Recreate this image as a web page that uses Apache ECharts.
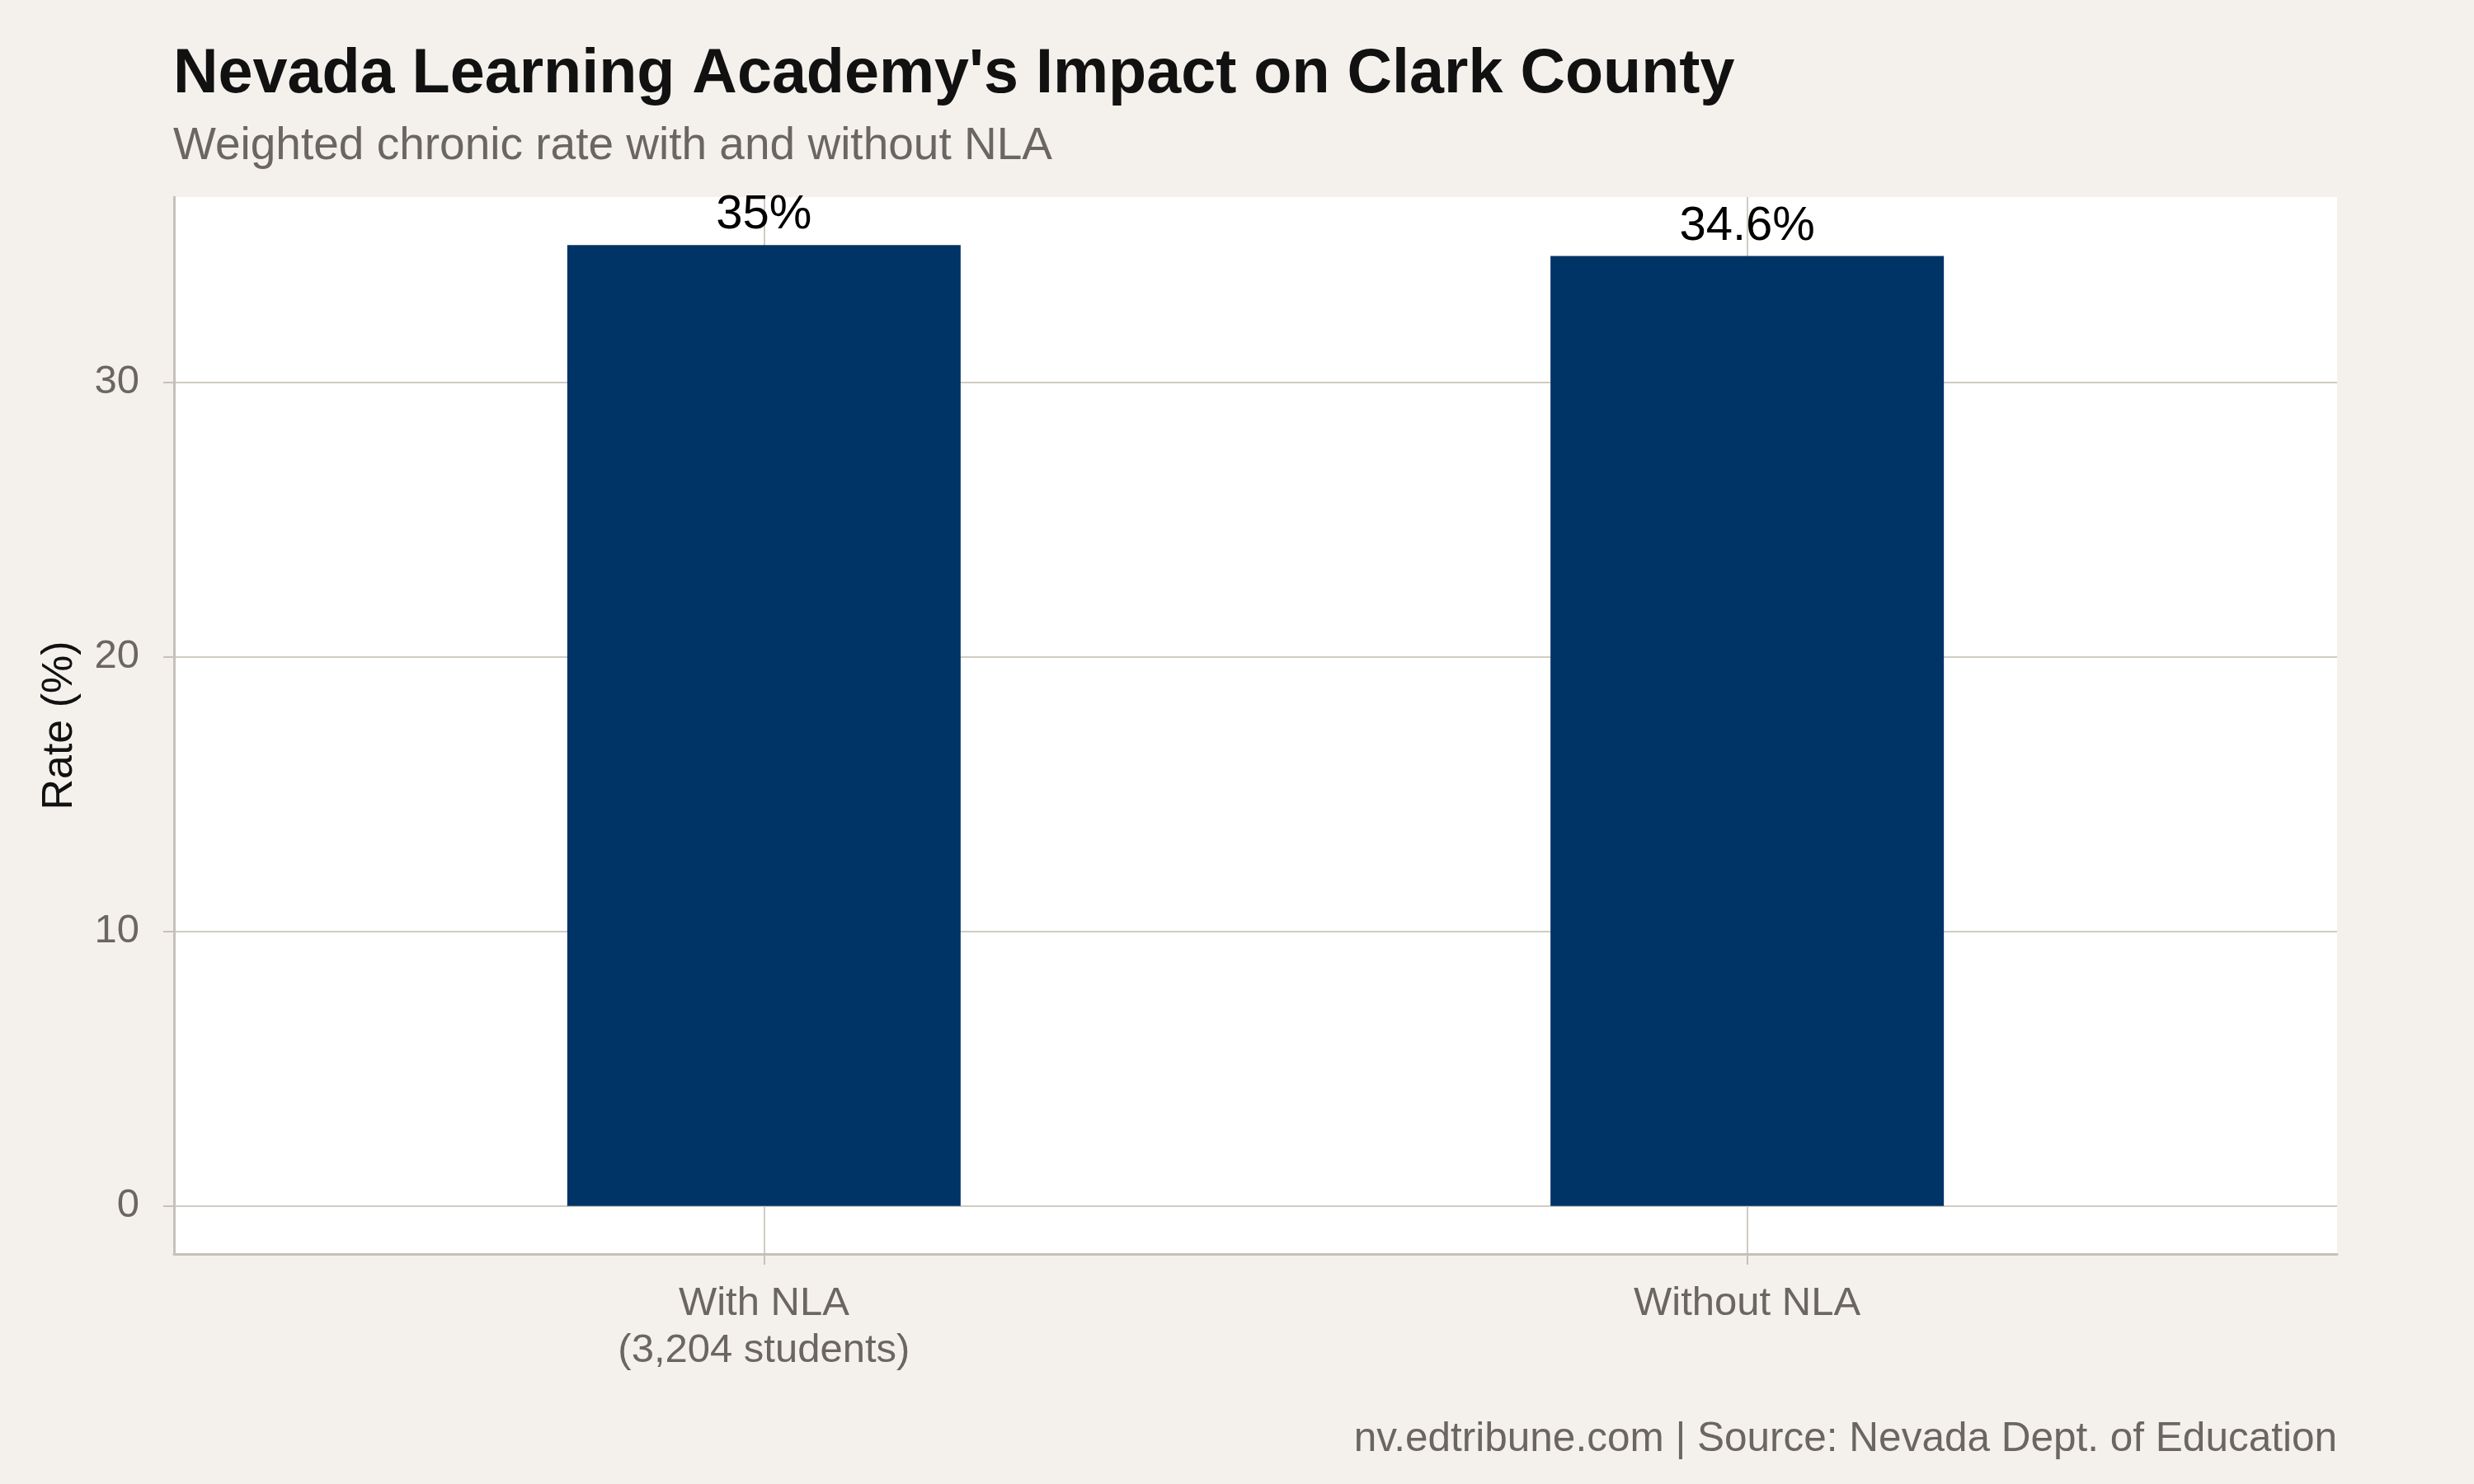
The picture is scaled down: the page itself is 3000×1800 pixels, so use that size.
<!DOCTYPE html>
<html lang="en">
<head>
<meta charset="UTF-8">
<title>Nevada Learning Academy's Impact on Clark County</title>
<script src="https://cdn.jsdelivr.net/npm/echarts@6/dist/echarts.min.js"></script>
<style>
  html, body { margin: 0; padding: 0; background: #f4f1ec; }
  #main { width: 3000px; height: 1800px; }
</style>
</head>
<body>
<div id="main"></div>
<script>
// data
var categories = ['With NLA\n(3,204 students)', 'Without NLA'];
var catPositions = [1, 2];
var rates = [35, 34.6];
var yTicks = [0, 10, 20, 30];

var gray = '#6b6660';
var gridColor = '#d0cbc3';
var axisColor = '#c6c1b8';
var font = 'Liberation Sans';

var chart = echarts.init(document.getElementById('main'));

var option = {
  backgroundColor: '#f4f1ec',
  textStyle: { fontFamily: font },
  title: [
    {
      text: "Nevada Learning Academy's Impact on Clark County",
      left: 210, top: 53, padding: 0,
      textStyle: { fontSize: 75.5, fontWeight: 'bold', color: '#111111', fontFamily: font, lineHeight: 76 }
    },
    {
      text: 'Weighted chronic rate with and without NLA',
      left: 210, top: 150, padding: 0,
      textStyle: { fontSize: 55, fontWeight: 'normal', color: gray, fontFamily: font, lineHeight: 55 }
    },
    {
      text: 'nv.edtribune.com | Source: Nevada Dept. of Education',
      right: 166, top: 1722, padding: 0,
      textStyle: { fontSize: 49.5, fontWeight: 'normal', color: gray, fontFamily: font, lineHeight: 49 }
    }
  ],
  grid: {
    left: 211, right: 166, top: 239, bottom: 279,
    show: true, backgroundColor: '#ffffff', borderWidth: 0,
    containLabel: false, outerBoundsMode: 'none'
  },
  xAxis: {
    type: 'value',
    min: 0.4, max: 2.6,
    axisLine: { show: true, onZero: false, lineStyle: { color: axisColor, width: 3 } },
    axisTick: { show: true, customValues: catPositions, length: 13, lineStyle: { color: axisColor, width: 2 } },
    axisLabel: {
      customValues: catPositions,
      formatter: function (v) { return categories[catPositions.indexOf(v)]; },
      margin: 32, fontSize: 49, lineHeight: 57, color: gray, fontFamily: font
    },
    splitLine: { show: true, lineStyle: { color: gridColor, width: 2 } }
  },
  yAxis: {
    type: 'value',
    min: -1.75, max: 36.75,
    name: 'Rate (%)',
    nameLocation: 'middle',
    nameGap: 112,
    nameTextStyle: { fontSize: 52, color: '#111111', fontFamily: font },
    axisLine: { show: true, onZero: false, lineStyle: { color: axisColor, width: 3 } },
    axisTick: { show: true, customValues: yTicks, length: 13, lineStyle: { color: axisColor, width: 2 } },
    axisLabel: { customValues: yTicks, margin: 42, fontSize: 49, color: gray, fontFamily: font, padding: [14, 0, 0, 0] },
    splitLine: { show: true, lineStyle: { color: gridColor, width: 2 } }
  },
  series: [
    {
      type: 'bar',
      barWidth: 477,
      itemStyle: { color: '#003366' },
      label: {
        show: true,
        position: 'top',
        distance: 7,
        fontSize: 58,
        lineHeight: 58,
        color: '#000000',
        fontFamily: font,
        formatter: function (p) { return p.value[1] + '%'; }
      },
      data: catPositions.map(function (x, i) { return [x, rates[i]]; })
    }
  ]
};

chart.setOption(option);
</script>
</body>
</html>
